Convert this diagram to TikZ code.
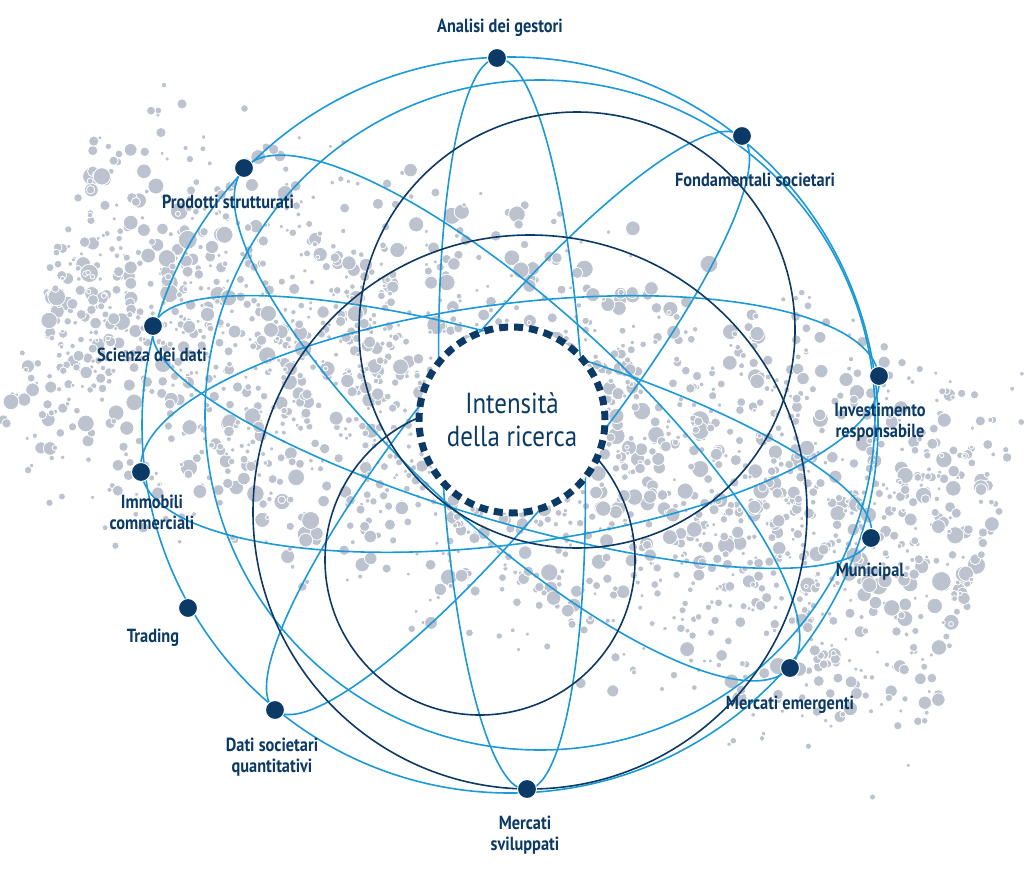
\documentclass[tikz,border=0pt]{standalone}
\usepackage{fontspec}
\setmainfont{PT Sans}[FakeStretch=0.86]
\definecolor{lb}{HTML}{1C9AD8}
\definecolor{nv}{HTML}{0C3A66}
\definecolor{bub}{HTML}{BCC3CE}
\begin{document}
\begin{tikzpicture}[x=1pt,y=-1pt,
  lbl/.style={text=nv,font=\bfseries\fontsize{19}{21}\selectfont,align=center,inner sep=1pt},
  dot/.style={circle,fill=nv,draw=white,line width=1pt,minimum size=19pt,inner sep=0pt},
  lbline/.style={draw=lb,line width=1.6pt},
  nvline/.style={draw=nv,line width=1.6pt}]
\useasboundingbox (0,0) rectangle (1024,878);
\fill[white] (0,0) rectangle (1024,878);
% bubble cloud
\pgfmathsetseed{7}
\foreach \i in {1,...,2400}{
  \pgfmathsetmacro{\a}{490*(2*rnd-1)}
  \pgfmathsetmacro{\b}{240*(rnd+rnd-1)}
  \pgfmathsetmacro{\r}{2+8*rnd*rnd}
  \pgfmathsetmacro{\px}{512+\a*0.95-\b*0.31}
  \pgfmathsetmacro{\py}{430+\a*0.31+\b*0.95}
  \fill[bub,draw=white,line width=0.8pt] (\px,\py) circle[radius=\r];
}
% outer light-blue circles
\draw[lbline] (510,425) circle[radius=368];
\draw[lbline] (540,415) circle[radius=335];
% light-blue ellipses
\draw[lbline,rotate around={2.3:(512,424)}] (512,424) ellipse[x radius=72,y radius=366];
\draw[lbline,rotate around={-42.5:(517,418)}] (517,418) ellipse[x radius=370,y radius=110];
\draw[lbline,rotate around={50.9:(508,423)}] (508,423) ellipse[x radius=370,y radius=80];
\draw[lbline,rotate around={7.4:(510,424)}] (510,424) ellipse[x radius=372,y radius=120];
\draw[lbline,rotate around={-16.4:(512,432)}] (512,432) ellipse[x radius=374,y radius=90];
% navy circles
\draw[nvline] (577,330) circle[radius=218];
\draw[nvline] (530,512) circle[radius=277];
\draw[nvline] (480,560) circle[radius=155];
% center
\node[circle,draw=nv,line width=7pt,dash pattern=on 9pt off 6pt,fill=white,minimum size=186pt] (c) at (512,420) {};
\node[text=nv,font=\fontsize{29}{33}\selectfont,align=center] (ct) at (512,420) {Intensità\\della ricerca};
% dots
\node[dot] (ag) at (497,58) {};
\node[dot] (fs) at (742,136) {};
\node[dot] (ps) at (244,168) {};
\node[dot] (sd) at (153,326) {};
\node[dot] (ir) at (879,376) {};
\node[dot] (ic) at (141,472) {};
\node[dot] (mu) at (871,538) {};
\node[dot] (tr) at (188,608) {};
\node[dot] (me) at (790,668) {};
\node[dot] (dq) at (275,710) {};
\node[dot] (ms) at (527,789) {};
% labels
\node[lbl] (lag) at (500,28) {Analisi dei gestori};
\node[lbl] (lfs) at (755,180) {Fondamentali societari};
\node[lbl] (lps) at (228,202) {Prodotti strutturati};
\node[lbl] (lsd) at (152,355) {Scienza dei dati};
\node[lbl] (lir) at (880,422) {Investimento\\responsabile};
\node[lbl] (lic) at (152,512) {Immobili\\commerciali};
\node[lbl] (lmu) at (870,572) {Municipal};
\node[lbl] (ltr) at (153,638) {Trading};
\node[lbl] (lme) at (790,705) {Mercati emergenti};
\node[lbl] (ldq) at (272,757) {Dati societari\\quantitativi};
\node[lbl] (lms) at (525,835) {Mercati\\sviluppati};
\end{tikzpicture}
\end{document}
